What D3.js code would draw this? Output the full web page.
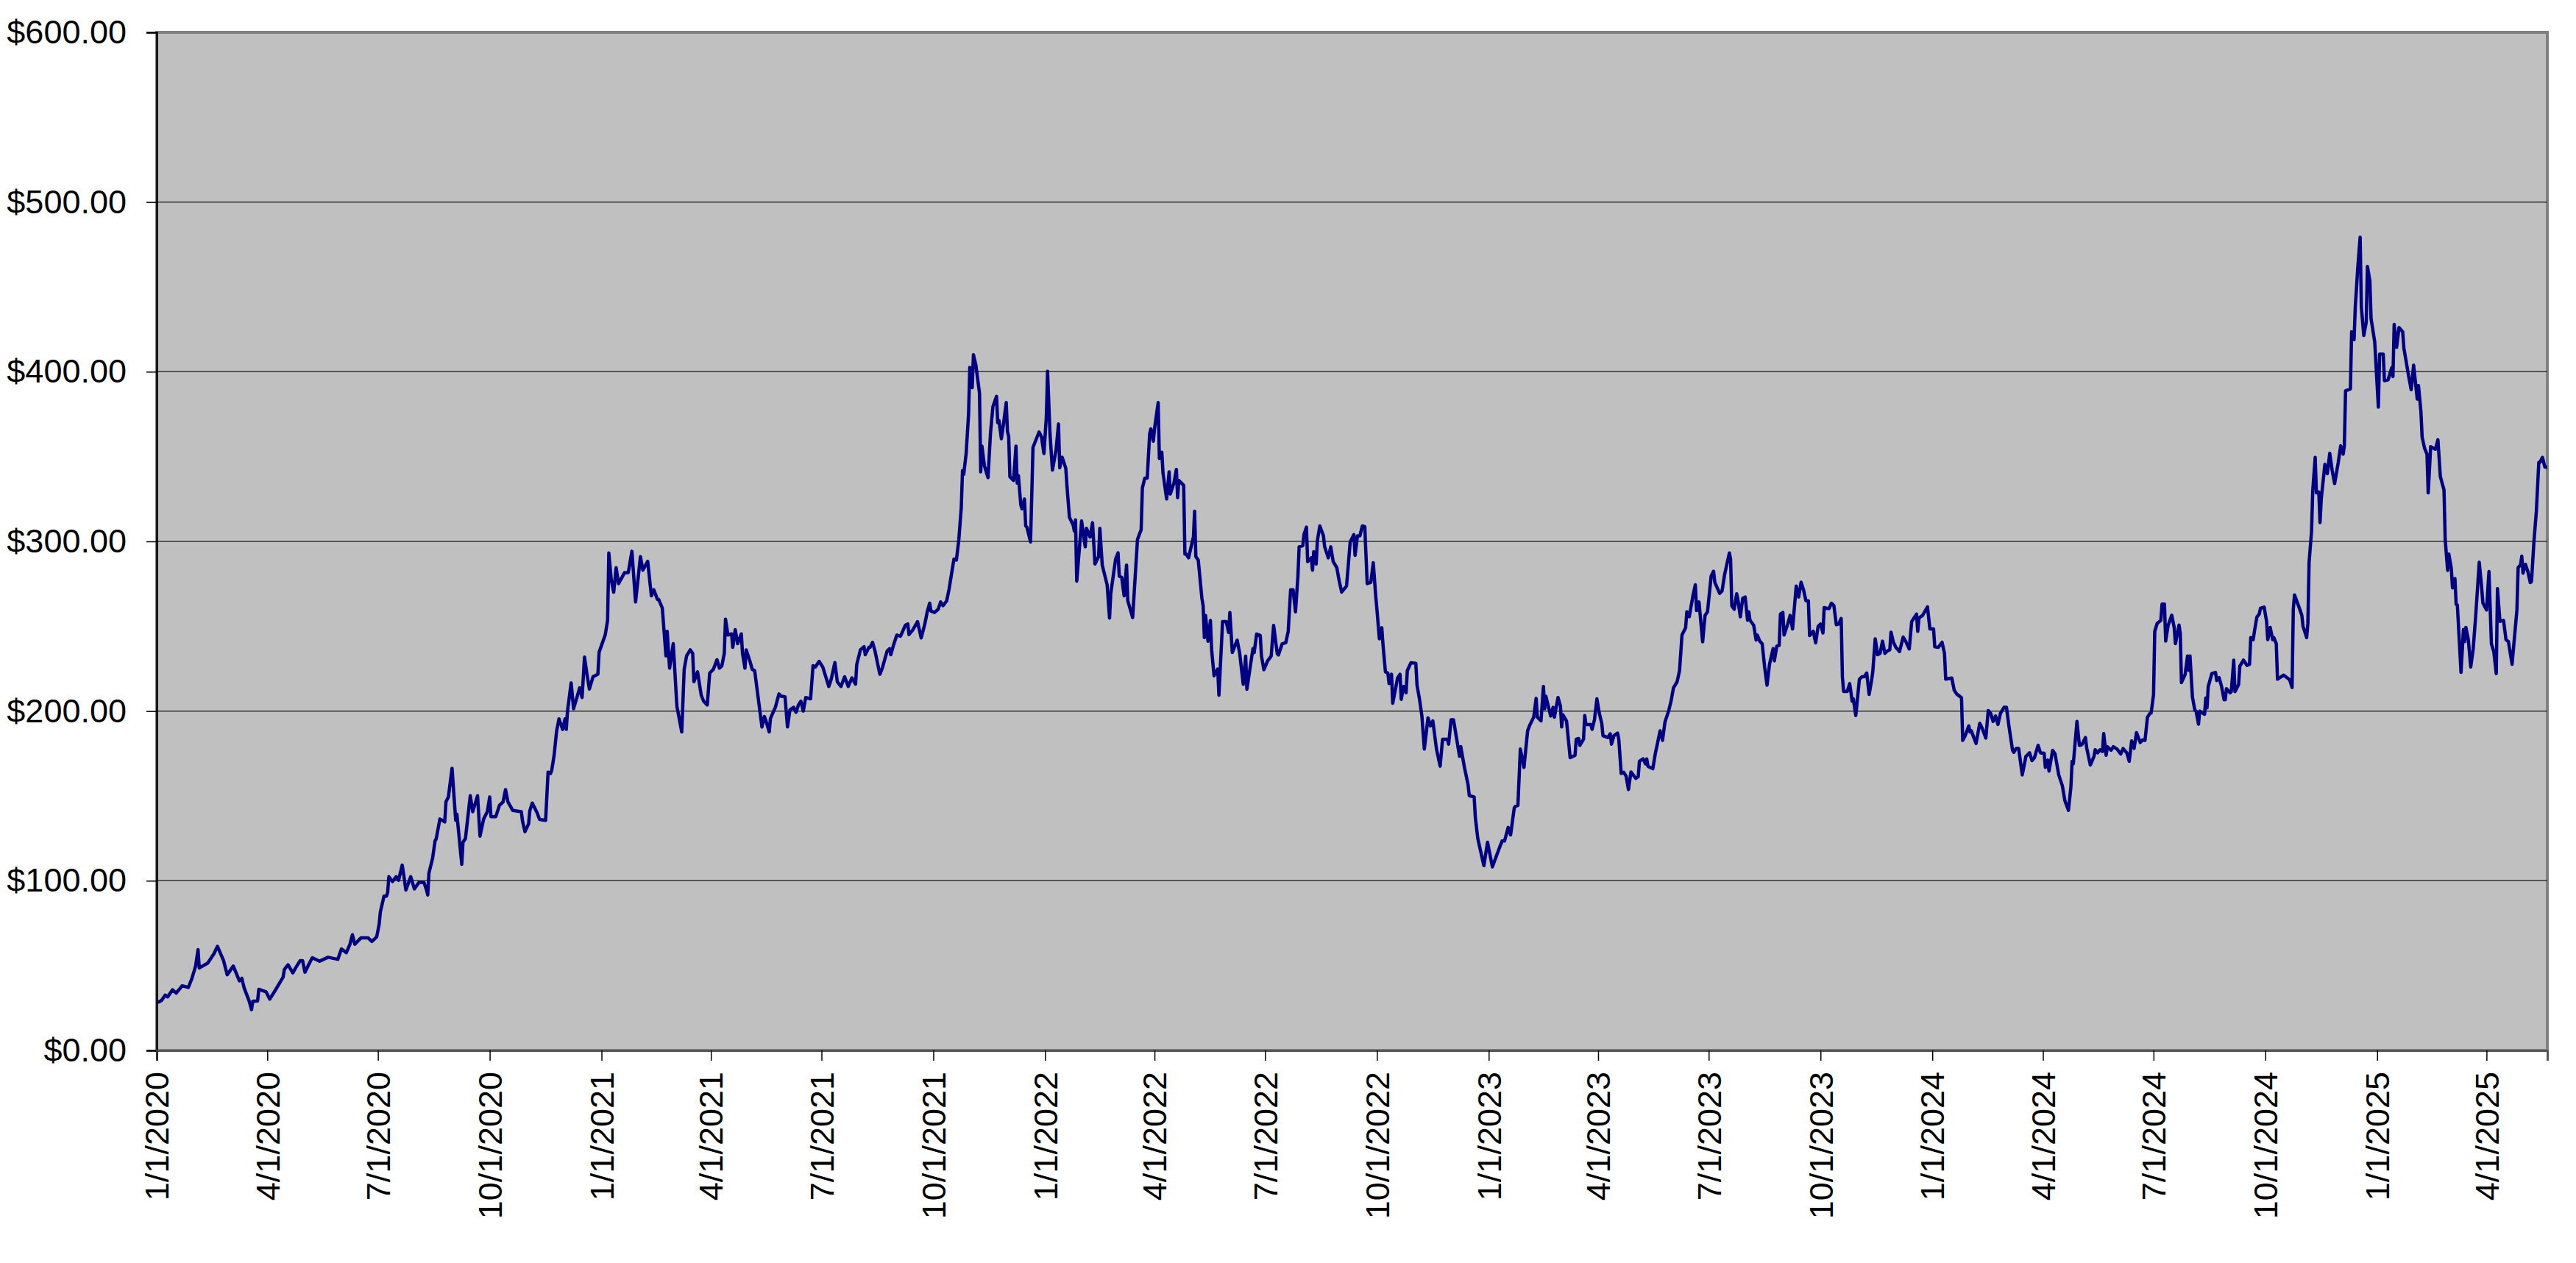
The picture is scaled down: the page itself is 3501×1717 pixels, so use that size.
<!doctype html>
<html lang="en">
<head>
<meta charset="UTF-8">
<title>price-line</title>
<style>
  body { margin: 0; background: #fff; }
  svg { display: block; }
  .tick text, .label { font-family: "Liberation Sans", Arial, sans-serif; font-size: 45px; fill: #000; }
  .grid line { stroke: #333; stroke-width: 1.5px; }
  .price { fill: none; stroke: #000080; stroke-width: 4.5px; stroke-linejoin: round; }
</style>
</head>
<body>
<svg id="chart" width="3501" height="1717"></svg>

<script src="https://d3js.org/d3.v7.min.js"></script>
<script>
// closing price (date, dollars)
const prices2020 = [
  ["2020-01-02", 28.3], ["2020-01-05", 29.5], ["2020-01-08", 32.6], ["2020-01-10", 31.6], ["2020-01-14", 35.7],
  ["2020-01-17", 33.8], ["2020-01-22", 38.1], ["2020-01-27", 37.1], ["2020-01-30", 42.5], ["2020-02-02", 49.7],
  ["2020-02-04", 59.4], ["2020-02-05", 48.6], ["2020-02-12", 51.5], ["2020-02-17", 56.9], ["2020-02-20", 61.3],
  ["2020-02-25", 52.9], ["2020-02-28", 44.6], ["2020-03-04", 49.7], ["2020-03-09", 41.0], ["2020-03-11", 42.5],
  ["2020-03-13", 36.7], ["2020-03-17", 29.2], ["2020-03-19", 24.0], ["2020-03-20", 28.9], ["2020-03-24", 29.2],
  ["2020-03-25", 36.0], ["2020-03-31", 34.5], ["2020-04-03", 30.2], ["2020-04-08", 36.0], ["2020-04-14", 43.2],
  ["2020-04-15", 47.6], ["2020-04-18", 50.5], ["2020-04-22", 45.7], ["2020-04-24", 48.3], ["2020-04-28", 52.9],
  ["2020-04-30", 52.9], ["2020-05-02", 46.1], ["2020-05-05", 50.5], ["2020-05-08", 54.6], ["2020-05-14", 52.6],
  ["2020-05-21", 54.9], ["2020-05-29", 53.7], ["2020-06-01", 59.8], ["2020-06-05", 57.6], ["2020-06-08", 62.6],
  ["2020-06-10", 68.2], ["2020-06-12", 62.6], ["2020-06-17", 66.3], ["2020-06-23", 66.3], ["2020-06-26", 64.2],
  ["2020-06-30", 66.9], ["2020-07-02", 74.3], ["2020-07-03", 81.5], ["2020-07-06", 90.9], ["2020-07-08", 90.9],
  ["2020-07-09", 93.0], ["2020-07-10", 102.4], ["2020-07-13", 99.5], ["2020-07-16", 102.4], ["2020-07-18", 100.3],
  ["2020-07-21", 109.2], ["2020-07-22", 104.6], ["2020-07-24", 94.5], ["2020-07-28", 102.4], ["2020-07-31", 95.2],
  ["2020-08-04", 99.2], ["2020-08-08", 98.8], ["2020-08-10", 94.5], ["2020-08-11", 91.6], ["2020-08-12", 104.6],
  ["2020-08-15", 113.3], ["2020-08-17", 123.4], ["2020-08-18", 124.8], ["2020-08-21", 136.4], ["2020-08-25", 134.7],
  ["2020-08-26", 146.5], ["2020-08-28", 149.4], ["2020-08-31", 166.3], ["2020-09-03", 135.6], ["2020-09-04", 139.2],
  ["2020-09-08", 109.7], ["2020-09-09", 122.7], ["2020-09-11", 124.8], ["2020-09-15", 150.1], ["2020-09-17", 140.7],
  ["2020-09-21", 150.1], ["2020-09-23", 126.3], ["2020-09-26", 136.4], ["2020-09-29", 140.7], ["2020-10-01", 149.4],
  ["2020-10-02", 137.8], ["2020-10-06", 137.8], ["2020-10-09", 144.4], ["2020-10-12", 146.5], ["2020-10-14", 153.7],
  ["2020-10-16", 146.5], ["2020-10-20", 141.4], ["2020-10-27", 140.7], ["2020-10-28", 135.0], ["2020-10-30", 128.9],
  ["2020-11-02", 133.6], ["2020-11-03", 141.4], ["2020-11-05", 145.8], ["2020-11-09", 140.0], ["2020-11-11", 136.1],
  ["2020-11-16", 135.6], ["2020-11-18", 164.0], ["2020-11-20", 163.2], ["2020-11-21", 165.0], ["2020-11-23", 174.0],
  ["2020-11-25", 188.0], ["2020-11-27", 195.4], ["2020-11-30", 189.2], ["2020-12-02", 195.4], ["2020-12-03", 189.2],
  ["2020-12-04", 200.0], ["2020-12-07", 216.6], ["2020-12-09", 201.4], ["2020-12-12", 208.7], ["2020-12-14", 213.7],
  ["2020-12-16", 208.0], ["2020-12-18", 231.8], ["2020-12-20", 221.7], ["2020-12-22", 213.0], ["2020-12-25", 220.2],
  ["2020-12-29", 221.7], ["2020-12-30", 234.7]
];

const prices2021 = [
  ["2021-01-04", 244.8], ["2021-01-06", 253.5], ["2021-01-07", 293.2], ["2021-01-09", 277.3], ["2021-01-11", 270.1],
  ["2021-01-13", 284.5], ["2021-01-15", 275.1], ["2021-01-20", 281.6], ["2021-01-23", 281.6], ["2021-01-26", 294.2],
  ["2021-01-29", 264.3], ["2021-02-02", 291.0], ["2021-02-04", 283.1], ["2021-02-08", 288.2], ["2021-02-11", 267.9],
  ["2021-02-13", 271.5], ["2021-02-16", 265.8], ["2021-02-17", 265.8], ["2021-02-20", 260.7], ["2021-02-23", 232.5],
  ["2021-02-24", 247.0], ["2021-02-26", 225.3], ["2021-03-01", 239.7], ["2021-03-04", 202.9], ["2021-03-08", 187.7],
  ["2021-03-10", 224.6], ["2021-03-12", 232.5], ["2021-03-15", 236.1], ["2021-03-17", 234.0], ["2021-03-18", 217.3],
  ["2021-03-21", 223.1], ["2021-03-24", 209.4], ["2021-03-26", 205.8], ["2021-03-29", 203.6], ["2021-03-31", 222.4],
  ["2021-04-03", 224.6], ["2021-04-06", 230.3], ["2021-04-08", 225.3], ["2021-04-10", 226.7], ["2021-04-12", 234.0],
  ["2021-04-13", 254.2], ["2021-04-15", 244.8], ["2021-04-18", 245.5], ["2021-04-19", 237.6], ["2021-04-21", 248.0],
  ["2021-04-23", 239.7], ["2021-04-26", 245.5], ["2021-04-27", 234.0], ["2021-04-29", 225.3], ["2021-04-30", 236.1],
  ["2021-05-03", 229.6], ["2021-05-05", 224.6], ["2021-05-07", 223.8], ["2021-05-10", 207.2], ["2021-05-13", 190.6],
  ["2021-05-15", 196.8], ["2021-05-16", 194.9], ["2021-05-19", 187.7], ["2021-05-20", 195.7], ["2021-05-24", 202.2],
  ["2021-05-27", 210.1], ["2021-05-29", 208.7], ["2021-06-01", 208.4], ["2021-06-03", 190.6], ["2021-06-05", 200.7],
  ["2021-06-08", 202.2], ["2021-06-10", 199.3], ["2021-06-12", 203.6], ["2021-06-14", 205.8], ["2021-06-16", 200.0],
  ["2021-06-18", 208.0], ["2021-06-22", 207.2], ["2021-06-24", 226.7], ["2021-06-26", 226.0], ["2021-06-29", 229.3],
  ["2021-07-02", 226.0], ["2021-07-07", 214.5], ["2021-07-09", 218.8], ["2021-07-12", 228.6], ["2021-07-14", 217.3],
  ["2021-07-17", 214.5], ["2021-07-20", 220.2], ["2021-07-23", 214.5], ["2021-07-26", 219.5], ["2021-07-29", 215.9],
  ["2021-07-30", 227.5], ["2021-08-02", 236.1], ["2021-08-05", 237.9], ["2021-08-06", 233.2], ["2021-08-09", 237.6],
  ["2021-08-10", 237.6], ["2021-08-12", 240.5], ["2021-08-14", 235.4], ["2021-08-18", 221.7], ["2021-08-20", 225.3],
  ["2021-08-24", 235.4], ["2021-08-26", 236.8], ["2021-08-27", 233.2], ["2021-08-29", 238.3], ["2021-09-01", 244.8],
  ["2021-09-04", 244.1], ["2021-09-08", 250.6], ["2021-09-10", 251.3], ["2021-09-11", 245.1], ["2021-09-14", 247.7],
  ["2021-09-18", 252.7], ["2021-09-21", 243.1], ["2021-09-24", 251.3], ["2021-09-26", 258.5], ["2021-09-28", 263.6],
  ["2021-09-29", 259.0], ["2021-10-02", 258.1], ["2021-10-05", 260.0], ["2021-10-07", 264.3], ["2021-10-09", 262.1],
  ["2021-10-12", 265.0], ["2021-10-14", 272.0], ["2021-10-16", 281.0], ["2021-10-18", 289.6], ["2021-10-20", 289.0],
  ["2021-10-22", 301.2], ["2021-10-24", 320.0], ["2021-10-25", 341.7], ["2021-10-26", 339.5], ["2021-10-28", 351.8],
  ["2021-10-30", 375.0], ["2021-10-31", 402.5], ["2021-11-02", 390.6], ["2021-11-03", 410.0], ["2021-11-05", 403.9],
  ["2021-11-08", 387.3], ["2021-11-09", 341.0], ["2021-11-10", 356.1], ["2021-11-12", 344.6], ["2021-11-15", 337.6],
  ["2021-11-17", 363.4], ["2021-11-19", 379.3], ["2021-11-22", 385.5], ["2021-11-23", 369.9], ["2021-11-24", 371.3],
  ["2021-11-26", 360.5], ["2021-11-28", 370.6], ["2021-11-30", 381.8], ["2021-12-01", 364.8], ["2021-12-02", 361.9],
  ["2021-12-03", 338.1], ["2021-12-06", 335.9], ["2021-12-08", 356.1], ["2021-12-09", 334.4], ["2021-12-10", 338.8],
  ["2021-12-12", 321.4], ["2021-12-13", 319.2], ["2021-12-15", 325.0], ["2021-12-16", 309.1], ["2021-12-17", 308.4],
  ["2021-12-20", 299.7], ["2021-12-22", 355.4], ["2021-12-27", 364.5], ["2021-12-29", 361.6], ["2021-12-31", 351.8]
];

const prices2022 = [
  ["2022-01-02", 373.5], ["2022-01-03", 400.3], ["2022-01-05", 363.4], ["2022-01-07", 342.0], ["2022-01-10", 354.0],
  ["2022-01-12", 369.2], ["2022-01-13", 343.4], ["2022-01-15", 349.6], ["2022-01-18", 343.1], ["2022-01-19", 332.3],
  ["2022-01-21", 314.2], ["2022-01-24", 309.8], ["2022-01-25", 306.2], ["2022-01-26", 312.7], ["2022-01-27", 276.6],
  ["2022-01-31", 312.0], ["2022-02-03", 296.8], ["2022-02-04", 307.7], ["2022-02-07", 302.6], ["2022-02-09", 311.0],
  ["2022-02-11", 286.7], ["2022-02-14", 291.0], ["2022-02-15", 307.7], ["2022-02-17", 286.0], ["2022-02-21", 274.4],
  ["2022-02-23", 254.8], ["2022-02-24", 269.3], ["2022-02-28", 289.6], ["2022-03-02", 293.2], ["2022-03-03", 279.5],
  ["2022-03-05", 278.8], ["2022-03-07", 267.9], ["2022-03-09", 286.0], ["2022-03-10", 265.0], ["2022-03-14", 255.1],
  ["2022-03-18", 301.2], ["2022-03-21", 306.9], ["2022-03-22", 331.5], ["2022-03-24", 337.3], ["2022-03-26", 337.3],
  ["2022-03-28", 363.4], ["2022-03-29", 366.3], ["2022-03-31", 359.1], ["2022-04-01", 366.3], ["2022-04-04", 381.8],
  ["2022-04-05", 348.9], ["2022-04-07", 352.5], ["2022-04-08", 340.2], ["2022-04-11", 325.0], ["2022-04-13", 341.0],
  ["2022-04-14", 327.9], ["2022-04-17", 334.4], ["2022-04-19", 342.4], ["2022-04-20", 325.8], ["2022-04-21", 335.9],
  ["2022-04-25", 333.0], ["2022-04-26", 292.5], ["2022-04-27", 292.5], ["2022-04-29", 290.3], ["2022-05-03", 302.6],
  ["2022-05-04", 317.8], ["2022-05-05", 291.0], ["2022-05-07", 288.9], ["2022-05-10", 266.4], ["2022-05-11", 262.1],
  ["2022-05-12", 243.3], ["2022-05-13", 256.3], ["2022-05-15", 241.1], ["2022-05-17", 253.4], ["2022-05-18", 236.0],
  ["2022-05-20", 220.8], ["2022-05-23", 224.7], ["2022-05-24", 209.3], ["2022-05-27", 252.7], ["2022-05-30", 252.7],
  ["2022-06-01", 246.3], ["2022-06-02", 258.1], ["2022-06-04", 234.5], ["2022-06-08", 241.8], ["2022-06-10", 234.5],
  ["2022-06-13", 215.8], ["2022-06-15", 232.4], ["2022-06-16", 212.9], ["2022-06-21", 236.8], ["2022-06-22", 234.5],
  ["2022-06-24", 245.4], ["2022-06-27", 244.6], ["2022-06-28", 232.4], ["2022-06-30", 224.4], ["2022-07-03", 229.5],
  ["2022-07-06", 232.4], ["2022-07-08", 250.5], ["2022-07-11", 233.8], ["2022-07-12", 233.1], ["2022-07-15", 239.6],
  ["2022-07-18", 240.3], ["2022-07-20", 246.9], ["2022-07-22", 271.5], ["2022-07-24", 271.5], ["2022-07-26", 258.5],
  ["2022-07-28", 279.5], ["2022-07-29", 296.8], ["2022-08-01", 297.5], ["2022-08-02", 304.1], ["2022-08-04", 308.4],
  ["2022-08-05", 288.1], ["2022-08-08", 290.3], ["2022-08-09", 283.1], ["2022-08-10", 293.9], ["2022-08-12", 286.7],
  ["2022-08-13", 300.4], ["2022-08-15", 309.1], ["2022-08-18", 303.3], ["2022-08-19", 296.8], ["2022-08-22", 290.3],
  ["2022-08-24", 296.8], ["2022-08-26", 288.1], ["2022-08-29", 284.5], ["2022-08-31", 276.6], ["2022-09-02", 270.1],
  ["2022-09-06", 273.7], ["2022-09-09", 299.7], ["2022-09-12", 304.0], ["2022-09-13", 291.8], ["2022-09-15", 303.3],
  ["2022-09-17", 303.3], ["2022-09-19", 309.1], ["2022-09-21", 308.7], ["2022-09-23", 275.1], ["2022-09-26", 275.9],
  ["2022-09-28", 287.4], ["2022-09-30", 267.9], ["2022-10-01", 260.0], ["2022-10-03", 242.6], ["2022-10-05", 249.1],
  ["2022-10-06", 239.0], ["2022-10-08", 223.1], ["2022-10-10", 222.4], ["2022-10-11", 216.2], ["2022-10-13", 221.7],
  ["2022-10-14", 204.6], ["2022-10-18", 219.5], ["2022-10-20", 221.7], ["2022-10-21", 206.9], ["2022-10-23", 214.5],
  ["2022-10-25", 210.8], ["2022-10-26", 223.8], ["2022-10-29", 228.5], ["2022-11-02", 228.2], ["2022-11-03", 215.2],
  ["2022-11-05", 207.2], ["2022-11-07", 197.1], ["2022-11-09", 177.6], ["2022-11-12", 196.0], ["2022-11-14", 191.3],
  ["2022-11-16", 194.2], ["2022-11-19", 177.6], ["2022-11-22", 167.5], ["2022-11-24", 183.4], ["2022-11-28", 183.4],
  ["2022-11-29", 180.5], ["2022-12-01", 194.9], ["2022-12-03", 194.9], ["2022-12-06", 181.9], ["2022-12-08", 173.3],
  ["2022-12-09", 179.0], ["2022-12-12", 166.8], ["2022-12-15", 156.6], ["2022-12-16", 150.1], ["2022-12-20", 149.4],
  ["2022-12-21", 137.1], ["2022-12-23", 124.9], ["2022-12-28", 108.9], ["2022-12-31", 122.7]
];

const prices2023 = [
  ["2023-01-04", 108.2], ["2023-01-07", 114.0], ["2023-01-10", 119.8], ["2023-01-12", 123.4], ["2023-01-14", 123.4],
  ["2023-01-17", 131.4], ["2023-01-19", 127.0], ["2023-01-22", 142.9], ["2023-01-23", 143.9], ["2023-01-25", 144.4],
  ["2023-01-27", 177.6], ["2023-01-30", 166.8], ["2023-02-02", 188.4], ["2023-02-04", 192.1], ["2023-02-07", 196.4],
  ["2023-02-09", 207.5], ["2023-02-10", 196.4], ["2023-02-13", 194.2], ["2023-02-15", 214.5], ["2023-02-16", 201.4],
  ["2023-02-17", 208.7], ["2023-02-21", 197.1], ["2023-02-23", 202.2], ["2023-02-24", 196.4], ["2023-02-27", 208.0],
  ["2023-03-01", 202.9], ["2023-03-02", 190.6], ["2023-03-03", 197.8], ["2023-03-06", 194.2], ["2023-03-09", 172.5],
  ["2023-03-13", 173.9], ["2023-03-14", 183.4], ["2023-03-16", 183.8], ["2023-03-17", 179.8], ["2023-03-20", 183.4],
  ["2023-03-21", 197.4], ["2023-03-22", 192.1], ["2023-03-26", 192.1], ["2023-03-27", 189.2], ["2023-03-29", 194.9],
  ["2023-03-31", 207.2], ["2023-04-02", 198.6], ["2023-04-04", 192.8], ["2023-04-05", 185.5], ["2023-04-09", 184.4],
  ["2023-04-11", 186.6], ["2023-04-12", 180.5], ["2023-04-14", 185.5], ["2023-04-17", 187.0], ["2023-04-18", 183.4],
  ["2023-04-20", 163.2], ["2023-04-22", 163.9], ["2023-04-24", 161.7], ["2023-04-26", 153.8], ["2023-04-28", 164.1],
  ["2023-05-02", 160.3], ["2023-05-04", 161.3], ["2023-05-05", 170.4], ["2023-05-08", 171.8], ["2023-05-10", 168.9],
  ["2023-05-11", 171.8], ["2023-05-12", 167.5], ["2023-05-16", 166.0], ["2023-05-18", 174.7], ["2023-05-22", 188.4],
  ["2023-05-24", 182.7], ["2023-05-26", 193.5], ["2023-05-29", 200.0], ["2023-05-31", 205.8], ["2023-06-02", 213.7],
  ["2023-06-05", 217.3], ["2023-06-07", 223.8], ["2023-06-09", 244.8], ["2023-06-12", 249.1], ["2023-06-13", 258.5],
  ["2023-06-15", 255.6], ["2023-06-18", 267.9], ["2023-06-20", 274.4], ["2023-06-21", 259.2], ["2023-06-23", 264.3],
  ["2023-06-26", 240.8], ["2023-06-28", 256.4], ["2023-06-30", 258.5], ["2023-07-03", 279.5], ["2023-07-05", 282.4],
  ["2023-07-06", 275.9], ["2023-07-10", 269.4], ["2023-07-12", 270.8], ["2023-07-14", 280.2], ["2023-07-18", 293.2],
  ["2023-07-19", 289.6], ["2023-07-20", 262.1], ["2023-07-22", 260.0], ["2023-07-24", 269.1], ["2023-07-25", 265.8],
  ["2023-07-27", 255.6], ["2023-07-29", 266.5], ["2023-07-31", 267.2], ["2023-08-02", 253.5], ["2023-08-03", 258.5],
  ["2023-08-04", 253.5], ["2023-08-07", 250.6], ["2023-08-09", 241.9], ["2023-08-10", 244.8], ["2023-08-12", 241.2],
  ["2023-08-14", 239.7], ["2023-08-16", 226.0], ["2023-08-18", 215.2], ["2023-08-20", 227.5], ["2023-08-23", 236.8],
  ["2023-08-24", 229.6], ["2023-08-26", 238.3], ["2023-08-28", 238.7], ["2023-08-29", 257.1], ["2023-08-31", 258.1],
  ["2023-09-01", 244.8], ["2023-09-04", 251.3], ["2023-09-06", 256.4], ["2023-09-08", 248.4], ["2023-09-11", 273.7],
  ["2023-09-13", 267.2], ["2023-09-15", 275.9], ["2023-09-17", 271.5], ["2023-09-19", 265.0], ["2023-09-21", 265.0],
  ["2023-09-22", 244.5], ["2023-09-25", 247.0], ["2023-09-27", 240.2], ["2023-09-29", 249.9], ["2023-10-01", 251.3],
  ["2023-10-03", 246.0], ["2023-10-04", 261.0], ["2023-10-07", 260.4], ["2023-10-08", 260.4], ["2023-10-10", 263.6],
  ["2023-10-12", 262.1], ["2023-10-14", 250.9], ["2023-10-16", 251.3], ["2023-10-18", 254.6], ["2023-10-19", 220.2],
  ["2023-10-20", 211.6], ["2023-10-23", 211.6], ["2023-10-25", 216.2], ["2023-10-27", 205.8], ["2023-10-28", 207.2],
  ["2023-10-30", 197.4], ["2023-11-02", 218.8], ["2023-11-04", 220.2], ["2023-11-06", 220.2], ["2023-11-08", 222.4],
  ["2023-11-10", 209.8], ["2023-11-12", 218.1], ["2023-11-13", 223.1], ["2023-11-15", 242.6], ["2023-11-17", 233.2],
  ["2023-11-19", 234.0], ["2023-11-21", 241.2], ["2023-11-23", 234.0], ["2023-11-25", 235.4], ["2023-11-27", 236.1],
  ["2023-11-28", 246.5], ["2023-11-30", 240.5], ["2023-12-02", 237.6], ["2023-12-05", 235.1], ["2023-12-08", 243.6],
  ["2023-12-10", 241.2], ["2023-12-13", 236.6], ["2023-12-15", 252.7], ["2023-12-16", 253.8], ["2023-12-19", 257.1],
  ["2023-12-20", 247.0], ["2023-12-21", 254.9], ["2023-12-24", 256.4], ["2023-12-28", 261.4], ["2023-12-30", 248.4]
];

const prices2024 = [
  ["2024-01-02", 248.4], ["2024-01-03", 237.9], ["2024-01-06", 237.6], ["2024-01-09", 240.5], ["2024-01-11", 234.0],
  ["2024-01-12", 218.8], ["2024-01-17", 219.5], ["2024-01-19", 212.3], ["2024-01-21", 210.1], ["2024-01-25", 207.9],
  ["2024-01-26", 182.7], ["2024-01-28", 185.5], ["2024-01-31", 191.3], ["2024-02-01", 187.7], ["2024-02-02", 188.4],
  ["2024-02-06", 180.9], ["2024-02-09", 192.8], ["2024-02-11", 189.9], ["2024-02-14", 184.1], ["2024-02-16", 200.3],
  ["2024-02-18", 198.6], ["2024-02-20", 193.9], ["2024-02-22", 197.1], ["2024-02-24", 192.1], ["2024-02-26", 198.6],
  ["2024-02-29", 202.2], ["2024-03-02", 202.2], ["2024-03-04", 191.3], ["2024-03-07", 176.9], ["2024-03-08", 175.7],
  ["2024-03-10", 178.0], ["2024-03-12", 178.0], ["2024-03-15", 162.4], ["2024-03-18", 173.3], ["2024-03-21", 175.4],
  ["2024-03-23", 170.8], ["2024-03-25", 172.5], ["2024-03-28", 179.8], ["2024-03-30", 175.4], ["2024-04-02", 175.1],
  ["2024-04-03", 166.8], ["2024-04-05", 171.1], ["2024-04-06", 164.6], ["2024-04-09", 176.9], ["2024-04-11", 174.7],
  ["2024-04-14", 162.4], ["2024-04-17", 155.9], ["2024-04-19", 147.3], ["2024-04-22", 141.5], ["2024-04-24", 155.2],
  ["2024-04-25", 170.4], ["2024-04-26", 168.9], ["2024-04-29", 193.9], ["2024-05-01", 179.8], ["2024-05-03", 180.1],
  ["2024-05-06", 184.4], ["2024-05-07", 178.3], ["2024-05-10", 168.2], ["2024-05-13", 173.3], ["2024-05-14", 177.2],
  ["2024-05-16", 175.4], ["2024-05-18", 177.2], ["2024-05-20", 176.2], ["2024-05-21", 186.7], ["2024-05-23", 174.0],
  ["2024-05-24", 179.0], ["2024-05-27", 176.9], ["2024-05-29", 179.0], ["2024-06-01", 177.6], ["2024-06-04", 174.7],
  ["2024-06-06", 177.9], ["2024-06-09", 175.4], ["2024-06-11", 170.4], ["2024-06-13", 182.4], ["2024-06-15", 178.0],
  ["2024-06-17", 187.3], ["2024-06-20", 181.5], ["2024-06-22", 183.0], ["2024-06-24", 182.7], ["2024-06-26", 196.4],
  ["2024-06-28", 198.6], ["2024-06-29", 198.8], ["2024-07-01", 209.6], ["2024-07-02", 246.9], ["2024-07-04", 251.7],
  ["2024-07-07", 253.4], ["2024-07-08", 263.0], ["2024-07-10", 263.0], ["2024-07-11", 241.3], ["2024-07-13", 250.5],
  ["2024-07-16", 256.5], ["2024-07-18", 249.3], ["2024-07-19", 239.7], ["2024-07-22", 250.7], ["2024-07-23", 245.7],
  ["2024-07-24", 216.8], ["2024-07-27", 221.6], ["2024-07-29", 232.5], ["2024-07-30", 224.0], ["2024-07-31", 232.5],
  ["2024-08-02", 208.4], ["2024-08-04", 200.5], ["2024-08-05", 200.0], ["2024-08-07", 192.3], ["2024-08-08", 200.0],
  ["2024-08-12", 198.1], ["2024-08-13", 207.7], ["2024-08-14", 201.9], ["2024-08-15", 214.4], ["2024-08-18", 222.1],
  ["2024-08-21", 222.8], ["2024-08-22", 218.0], ["2024-08-24", 219.7], ["2024-08-26", 214.4], ["2024-08-28", 206.7],
  ["2024-08-29", 206.7], ["2024-08-30", 213.2], ["2024-09-02", 210.8], ["2024-09-03", 211.5], ["2024-09-05", 230.0],
  ["2024-09-06", 211.5], ["2024-09-09", 215.6], ["2024-09-10", 226.4], ["2024-09-13", 230.0], ["2024-09-16", 226.9],
  ["2024-09-18", 227.6], ["2024-09-19", 243.3], ["2024-09-21", 242.1], ["2024-09-22", 246.9], ["2024-09-24", 255.3],
  ["2024-09-26", 257.2], ["2024-09-27", 260.6], ["2024-09-30", 261.3], ["2024-10-02", 252.9], ["2024-10-03", 242.1],
  ["2024-10-05", 249.3], ["2024-10-07", 242.1], ["2024-10-08", 243.3], ["2024-10-10", 239.7], ["2024-10-11", 218.8],
  ["2024-10-16", 221.2], ["2024-10-21", 218.5], ["2024-10-23", 213.9], ["2024-10-24", 260.1], ["2024-10-25", 268.5],
  ["2024-10-29", 260.6], ["2024-10-31", 256.5], ["2024-11-01", 250.0], ["2024-11-04", 243.3], ["2024-11-05", 251.7],
  ["2024-11-06", 287.7], ["2024-11-08", 305.8], ["2024-11-09", 329.8], ["2024-11-11", 349.5], ["2024-11-12", 328.6],
  ["2024-11-14", 329.1], ["2024-11-15", 311.1], ["2024-11-16", 325.0], ["2024-11-19", 345.4], ["2024-11-21", 339.9],
  ["2024-11-23", 351.9], ["2024-11-25", 341.8], ["2024-11-27", 334.1], ["2024-11-30", 346.6], ["2024-12-02", 356.3],
  ["2024-12-04", 351.4], ["2024-12-05", 356.3], ["2024-12-06", 388.7], ["2024-12-10", 389.9], ["2024-12-11", 423.6],
  ["2024-12-13", 418.8], ["2024-12-14", 438.0], ["2024-12-16", 460.8], ["2024-12-18", 479.3], ["2024-12-19", 438.0],
  ["2024-12-21", 421.4], ["2024-12-23", 429.0], ["2024-12-24", 462.0], ["2024-12-26", 453.6], ["2024-12-27", 431.3],
  ["2024-12-30", 417.5]
];

const prices2025 = [
  ["2025-01-02", 379.1], ["2025-01-03", 410.3], ["2025-01-06", 410.3], ["2025-01-07", 394.7], ["2025-01-10", 395.2],
  ["2025-01-13", 402.4], ["2025-01-14", 397.1], ["2025-01-15", 427.9], ["2025-01-17", 414.4], ["2025-01-19", 426.0],
  ["2025-01-22", 423.6], ["2025-01-23", 413.9], ["2025-01-25", 405.5], ["2025-01-27", 397.1], ["2025-01-29", 389.4],
  ["2025-01-31", 403.8], ["2025-02-03", 383.9], ["2025-02-04", 391.8], ["2025-02-06", 376.7], ["2025-02-07", 361.5],
  ["2025-02-09", 355.0], ["2025-02-11", 351.4], ["2025-02-12", 328.6], ["2025-02-13", 341.8], ["2025-02-14", 355.8],
  ["2025-02-18", 354.3], ["2025-02-20", 359.9], ["2025-02-22", 338.2], ["2025-02-25", 330.3], ["2025-02-26", 301.0],
  ["2025-02-28", 282.9], ["2025-03-01", 292.5], ["2025-03-03", 284.1], ["2025-03-04", 272.6], ["2025-03-06", 278.1],
  ["2025-03-07", 263.0], ["2025-03-08", 262.5], ["2025-03-11", 222.8], ["2025-03-13", 248.1], ["2025-03-14", 240.9],
  ["2025-03-15", 249.3], ["2025-03-17", 242.1], ["2025-03-19", 226.0], ["2025-03-21", 236.5], ["2025-03-23", 255.3],
  ["2025-03-26", 287.7], ["2025-03-28", 272.6], ["2025-03-29", 263.7], ["2025-04-01", 259.6], ["2025-04-03", 282.2],
  ["2025-04-05", 239.7], ["2025-04-07", 234.9], ["2025-04-09", 222.1], ["2025-04-10", 272.1], ["2025-04-12", 252.9],
  ["2025-04-15", 253.4], ["2025-04-17", 242.1], ["2025-04-19", 240.9], ["2025-04-22", 227.6], ["2025-04-26", 259.6],
  ["2025-04-27", 284.6], ["2025-04-29", 286.1], ["2025-04-30", 291.3], ["2025-05-01", 281.3], ["2025-05-03", 286.5],
  ["2025-05-05", 282.2], ["2025-05-07", 275.7], ["2025-05-08", 276.4], ["2025-05-10", 299.8], ["2025-05-12", 317.8],
  ["2025-05-14", 346.6], ["2025-05-15", 346.6], ["2025-05-17", 349.5], ["2025-05-19", 343.8], ["2025-05-21", 343.8]
];

// axis ticks
const xTickDates = [
  "2020-01-01", "2020-04-01", "2020-07-01", "2020-10-01",
  "2021-01-01", "2021-04-01", "2021-07-01", "2021-10-01",
  "2022-01-01", "2022-04-01", "2022-07-01", "2022-10-01",
  "2023-01-01", "2023-04-01", "2023-07-01", "2023-10-01",
  "2024-01-01", "2024-04-01", "2024-07-01", "2024-10-01",
  "2025-01-01", "2025-04-01"
];
const yTicks = [0, 100, 200, 300, 400, 500, 600];

const parseDate = d3.timeParse("%Y-%m-%d");
const series = [].concat(prices2020, prices2021, prices2022, prices2023, prices2024, prices2025)
  .map(d => ({ date: parseDate(d[0]), value: d[1] }));

const width = 3501, height = 1717;
const margin = { top: 44, right: 39, bottom: 289, left: 213 };
const innerW = width - margin.left - margin.right;
const innerH = height - margin.top - margin.bottom;

const svg = d3.select("#chart");
const g = svg.append("g").attr("transform", `translate(${margin.left},${margin.top})`);

const x = d3.scaleTime()
  .domain([parseDate("2020-01-01"), parseDate("2025-05-21")])
  .range([0, innerW]);
const y = d3.scaleLinear().domain([0, 600]).range([innerH, 0]);

// plot area
g.append("rect")
  .attr("width", innerW).attr("height", innerH)
  .attr("fill", "#c0c0c0").attr("stroke", "#808080").attr("stroke-width", 4);

// gridlines
g.append("g").attr("class", "grid")
  .selectAll("line")
  .data(yTicks.filter(v => v > 0 && v < 600))
  .join("line")
  .attr("x1", 0).attr("x2", innerW)
  .attr("y1", d => y(d)).attr("y2", d => y(d));

// price line
const line = d3.line().x(d => x(d.date)).y(d => y(d.value));
g.append("path").datum(series).attr("class", "price").attr("d", line);

// y axis
const money = d3.format(",.2f");
const yAxis = g.append("g")
  .call(d3.axisLeft(y).tickValues(yTicks).tickSize(14).tickPadding(27).tickFormat(d => "$" + money(d)));
yAxis.select(".domain").attr("stroke", "#000").attr("stroke-width", 2.5);
yAxis.selectAll(".tick line").attr("stroke", "#000").attr("stroke-width", 1.5);

// x axis
const fmtDate = d3.timeFormat("%-m/%-d/%Y");
const xAxis = g.append("g")
  .attr("transform", `translate(0,${innerH})`)
  .call(d3.axisBottom(x).tickValues(xTickDates.map(parseDate)).tickSize(14).tickFormat(fmtDate));
xAxis.select(".domain").attr("stroke", "#555").attr("stroke-width", 3);
xAxis.selectAll(".tick line").attr("stroke", "#000").attr("stroke-width", 1.5);
xAxis.selectAll(".tick text")
  .attr("transform", "rotate(-90)")
  .attr("x", -29).attr("y", 0).attr("dy", "0.35em")
  .style("text-anchor", "end");

svg.selectAll(".tick text")
  .style("font-family", "'Liberation Sans', Arial, sans-serif")
  .style("font-size", "45px")
  .attr("fill", "#000");
</script>
</body>
</html>
